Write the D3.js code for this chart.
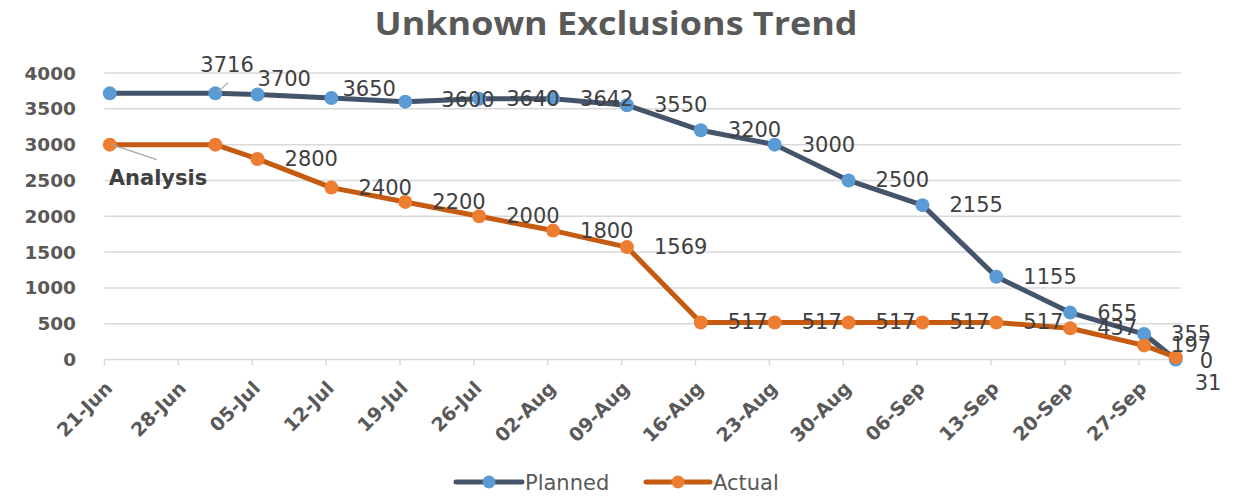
<!DOCTYPE html>
<html>
<head>
<meta charset="utf-8">
<style>
  body { margin: 0; background: #fff; }
  svg text { font-family: "DejaVu Sans", sans-serif; }
  .grid line { stroke: #d9d9d9; stroke-width: 1.5; }
  .ylab { fill: #595959; font-weight: bold; font-size: 18.5px; }
  .xlab { fill: #595959; font-weight: bold; font-size: 19px; }
  .dlab { fill: #404040; font-size: 21px; }
  .title { fill: #595959; font-family: "Open Sans", sans-serif !important; font-weight: 700; font-size: 32px; }
  .legend { fill: #595959; font-size: 21px; }
</style>
</head>
<body>
<div id="chart"></div>
<script src="https://cdn.jsdelivr.net/npm/d3@7/dist/d3.min.js"></script>
<script>

//////////////////// data ////////////////////
const dates = ['2021-06-21', '2021-07-01', '2021-07-05', '2021-07-12', '2021-07-19', '2021-07-26',
  '2021-08-02', '2021-08-09', '2021-08-16', '2021-08-23', '2021-08-30', '2021-09-06',
  '2021-09-13', '2021-09-20', '2021-09-27', '2021-09-30'];
const planned = [3716, 3716, 3700, 3650, 3600, 3640, 3642, 3550, 3200, 3000, 2500, 2155, 1155, 655, 355, 0];
const actual = [3000, 3000, 2800, 2400, 2200, 2000, 1800, 1569, 517, 517, 517, 517, 517, 437, 197, 31];
const plannedLabels = [null, '3716', '3700', '3650', '3600', '3640', '3642', '3550', '3200', '3000',
  '2500', '2155', '1155', '655', '355', '0'];
const actualLabels = ['Analysis', null, '2800', '2400', '2200', '2000', '1800', '1569', '517', '517',
  '517', '517', '517', '437', '197', '31'];
const yTicks = [0, 500, 1000, 1500, 2000, 2500, 3000, 3500, 4000];
const seriesNames = ['Planned', 'Actual'];

//////////////////// layout ////////////////////
const W = 1239, H = 497;
const parse = d3.timeParse('%Y-%m-%d');
const x = d3.scaleTime()
  .domain([parse('2021-06-21'), parse('2021-10-01')])
  .range([104.5, 1181]);
const y = d3.scaleLinear().domain([0, 4000]).range([359.5, 73]);
const half = d => d3.timeHour.offset(d, 12); // points sit in the middle of their day

const svg = d3.select('#chart').append('svg')
  .attr('width', W).attr('height', H);

svg.append('text').attr('class', 'title')
  .attr('x', 616).attr('y', 35).attr('text-anchor', 'middle')
  .attr('textLength', 483).attr('lengthAdjust', 'spacingAndGlyphs')
  .text('Unknown Exclusions Trend');

// grille
const grid = svg.append('g').attr('class', 'grid');
grid.selectAll('line').data(yTicks).join('line')
  .attr('x1', x.range()[0]).attr('x2', x.range()[1])
  .attr('y1', d => y(d)).attr('y2', d => y(d));

svg.selectAll('.ylab').data(yTicks).join('text')
  .attr('class', 'ylab')
  .attr('x', 76).attr('y', d => y(d) + 6.5)
  .attr('text-anchor', 'end')
  .text(d => d);

// axe x
const xTicks = d3.timeMonday.range(parse('2021-06-21'), parse('2021-09-28'));
const fmt = d3.timeFormat('%d-%b');
const xAxis = svg.append('g').attr('class', 'grid');
xAxis.selectAll('line').data(xTicks).join('line')
  .attr('x1', d => x(d)).attr('x2', d => x(d))
  .attr('y1', y(0)).attr('y2', y(0) + 6);

svg.selectAll('.xlab').data(xTicks).join('text')
  .attr('class', 'xlab')
  .attr('text-anchor', 'end')
  .attr('transform', d => `translate(${x(d) + 9}, ${y(0) + 30}) rotate(-45)`)
  .text(fmt);

//////////////////// series ////////////////////
const series = [
  { name: seriesNames[0], values: planned, labels: plannedLabels, line: '#44546a', marker: '#5b9bd5' },
  { name: seriesNames[1], values: actual, labels: actualLabels, line: '#c55a11', marker: '#ed7d31' }
];

// label tweaks (dx from the point, dy to the baseline)
const special = {
  'Planned-1': { dx: -15, dy: -21, leader: [[13, -11], [2, -1]] },
  'Planned-2': { dx: 0, dy: -8 },
  'Planned-3': { dx: 11, dy: -2 },
  'Planned-4': { dx: 36, dy: 5 },
  'Planned-15': { dx: 24, dy: 8 },
  'Actual-0': { dx: -1, dy: 40, leader: [[2, 0], [47, 15]], bold: true },
  'Actual-15': { dx: 19, dy: 33 }
};

const line = d3.line().x(d => x(half(d.date))).y(d => y(d.v));

series.forEach(s => {
  const pts = dates.map((d, i) => ({ date: parse(d), v: s.values[i], lab: s.labels[i], i }));
  const g = svg.append('g');
  g.append('path')
    .attr('d', line(pts))
    .attr('fill', 'none')
    .attr('stroke', s.line)
    .attr('stroke-width', 5)
    .attr('stroke-linejoin', 'round');
  g.selectAll('circle').data(pts).join('circle')
    .attr('cx', d => x(half(d.date)))
    .attr('cy', d => y(d.v))
    .attr('r', 7)
    .attr('fill', s.marker);
});

series.forEach(s => {
  dates.forEach((d, i) => {
    const lab = s.labels[i];
    if (lab == null) return;
    const px = x(half(parse(d))), py = y(s.values[i]);
    const sp = special[`${s.name}-${i}`] || { dx: 27, dy: 7 };
    if (sp.leader) {
      svg.append('line')
        .attr('x1', px + sp.leader[0][0]).attr('y1', py + sp.leader[0][1])
        .attr('x2', px + sp.leader[1][0]).attr('y2', py + sp.leader[1][1])
        .attr('stroke', '#a6a6a6').attr('stroke-width', 1.2);
    }
    svg.append('text').attr('class', 'dlab')
      .attr('x', px + sp.dx).attr('y', py + sp.dy)
      .attr('font-weight', sp.bold ? 'bold' : null)
      .attr('font-size', sp.bold ? '18px' : null)
      .text(lab);
  });
});

//////////////////// legende ////////////////////
const legend = [
  { x0: 456, x1: 522, text: 525 },
  { x0: 646, x1: 710, text: 713 }
];
series.forEach((s, i) => {
  const L = legend[i];
  svg.append('line')
    .attr('x1', L.x0).attr('x2', L.x1).attr('y1', 482).attr('y2', 482)
    .attr('stroke', s.line).attr('stroke-width', 5).attr('stroke-linecap', 'round');
  svg.append('circle').attr('cx', (L.x0 + L.x1) / 2).attr('cy', 482).attr('r', 6.5).attr('fill', s.marker);
  svg.append('text').attr('class', 'legend')
    .attr('x', L.text).attr('y', 489.5)
    .text(s.name);
});

</script>
</body>
</html>
